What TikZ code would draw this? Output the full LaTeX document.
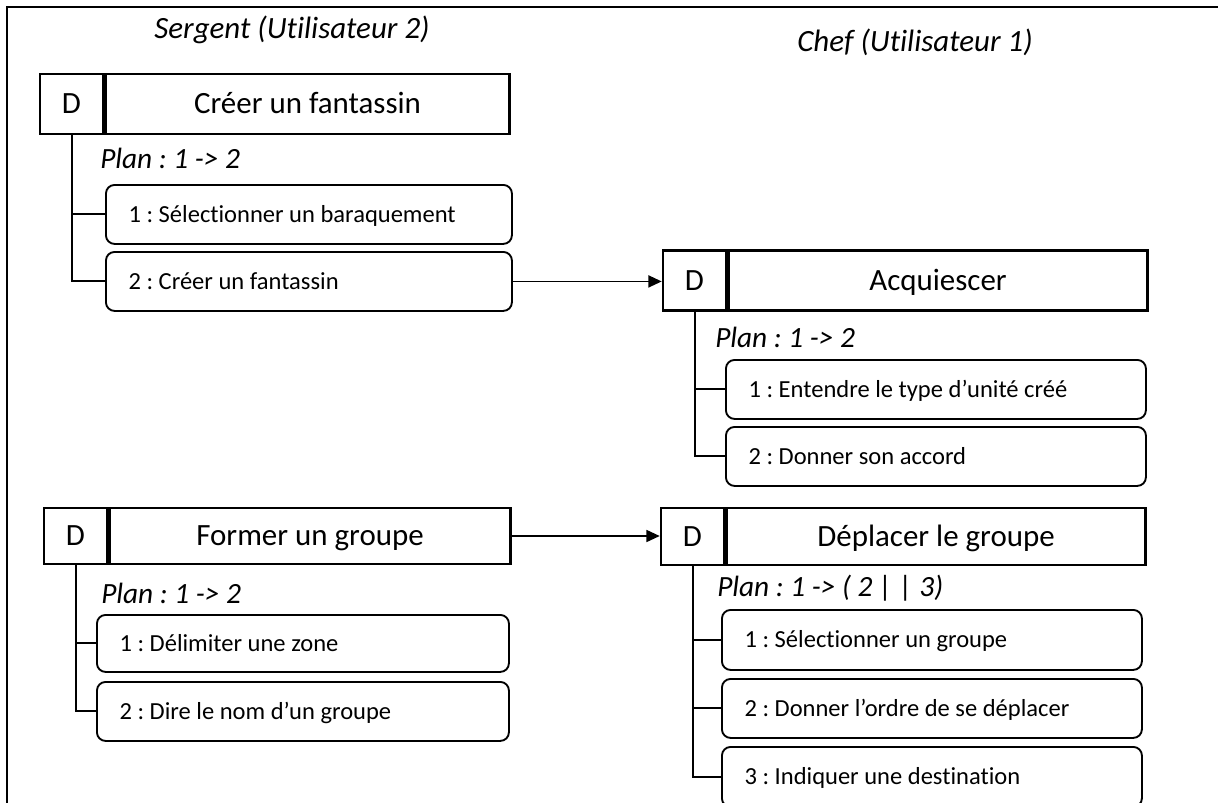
\documentclass[tikz,border=0pt]{standalone}
\usepackage{fontspec}
\setmainfont{Carlito}[Ligatures=NoCommon]
\frenchspacing
\usetikzlibrary{arrows.meta,positioning}

\begin{document}
\begin{tikzpicture}[x=0.75pt,y=-0.75pt,
    dbox/.style={draw,line width=1.9pt,minimum width=47.25pt,minimum height=45pt,inner sep=0pt,text height=14.9pt,text depth=0pt,font=\fontsize{23.2}{27}\selectfont},
    tbox/.style={draw,line width=1.9pt,minimum height=45pt,inner sep=0pt,anchor=west,text height=14.9pt,text depth=0pt,font=\fontsize{23.2}{27}\selectfont},
    subtask/.style={draw,line width=1.4pt,rounded corners=6.5pt,anchor=north west,inner xsep=17pt,inner ysep=0pt,minimum height=44.25pt,align=flush left,text height=11.85pt,text depth=0pt,font=\fontsize{18.4}{22}\selectfont},
    plantxt/.style={anchor=west,inner sep=0pt,font=\fontsize{22}{26}\selectfont\itshape},
    usertxt/.style={inner sep=0pt,font=\fontsize{23.2}{27}\selectfont\itshape},
    tree/.style={line width=1.5pt},
    link/.style={line width=1.3pt,-{Triangle[length=10pt,width=9pt]}}]

    \useasboundingbox (0,0) rectangle (1218,803);
    \clip (0,0) rectangle (1218,803);

    % Frame
    \draw[line width=2.2pt] (7,810) -- (7,7) -- (1225,7);

    % Users
    \node[usertxt] (sergent) at (292,30) {Sergent (Utilisateur 2)};
    \node[usertxt] (chef) at (915,42) {Chef (Utilisateur 1)};

    % Task 1: Creer un fantassin
    \node[dbox] (d1) at (71.5,104) {D};
    \node[tbox,minimum width=303pt] (t1) at (d1.east) {Créer un fantassin};
    \node[plantxt] (plan1) at (100,158) {Plan : 1 -> 2};
    \node[subtask,text width=270.5pt] (s11) at (105,184) {1 : Sélectionner un baraquement};
    \node[subtask,text width=270.5pt] (s12) at (105,251) {2 : Créer un fantassin};
    \draw[tree] (d1.south) |- (s12.west);
    \draw[tree] (d1.south |- s11.west) -- (s11.west);

    % Task 2: Acquiescer
    \node[dbox] (d2) at (694.5,280.5) {D};
    \node[tbox,minimum width=314.25pt] (t2) at (d2.east) {Acquiescer};
    \node[plantxt] (plan2) at (715,337) {Plan : 1 -> 2};
    \node[subtask,text width=281pt] (s21) at (725,359) {1 : Entendre le type d’unité créé};
    \node[subtask,text width=281pt] (s22) at (725,426) {2 : Donner son accord};
    \draw[tree] (d2.south) |- (s22.west);
    \draw[tree] (d2.south |- s21.west) -- (s21.west);

    \draw[link] (s12.east) -- (s12.east -| d2.west);

    % Task 3: Former un groupe
    \node[dbox,minimum height=42pt] (d3) at (75.5,536) {D};
    \node[tbox,minimum width=300.75pt,minimum height=42pt] (t3) at (d3.east) {Former un groupe};
    \node[plantxt] (plan3) at (101,593) {Plan : 1 -> 2};
    \node[subtask,text width=275pt,minimum height=42.75pt] (s31) at (96,614) {1 : Délimiter une zone};
    \node[subtask,text width=275pt] (s32) at (96,681) {2 : Dire le nom d’un groupe};
    \draw[tree] (d3.south) |- (s32.west);
    \draw[tree] (d3.south |- s31.west) -- (s31.west);

    % Task 4: Deplacer le groupe
    \node[dbox,minimum height=42.75pt] (d4) at (692.5,536.5) {D};
    \node[tbox,minimum width=314.25pt,minimum height=42.75pt] (t4) at (d4.east) {Déplacer le groupe};
    \node[plantxt] (plan4) at (717,588) {Plan : 1 -> ( 2 | | 3)};
    \node[subtask,text width=281pt,minimum height=45pt] (s41) at (721,609) {1 : Sélectionner un groupe};
    \node[subtask,text width=281pt] (s42) at (721,678) {2 : Donner l’ordre de se déplacer};
    \node[subtask,text width=281pt,minimum height=45pt] (s43) at (721,746) {3 : Indiquer une destination};
    \draw[tree] (d4.south) |- (s43.west);
    \draw[tree] (d4.south |- s41.west) -- (s41.west);
    \draw[tree] (d4.south |- s42.west) -- (s42.west);

    \draw[link] (t3.east) -- (t3.east -| d4.west);

\end{tikzpicture}
\end{document}
